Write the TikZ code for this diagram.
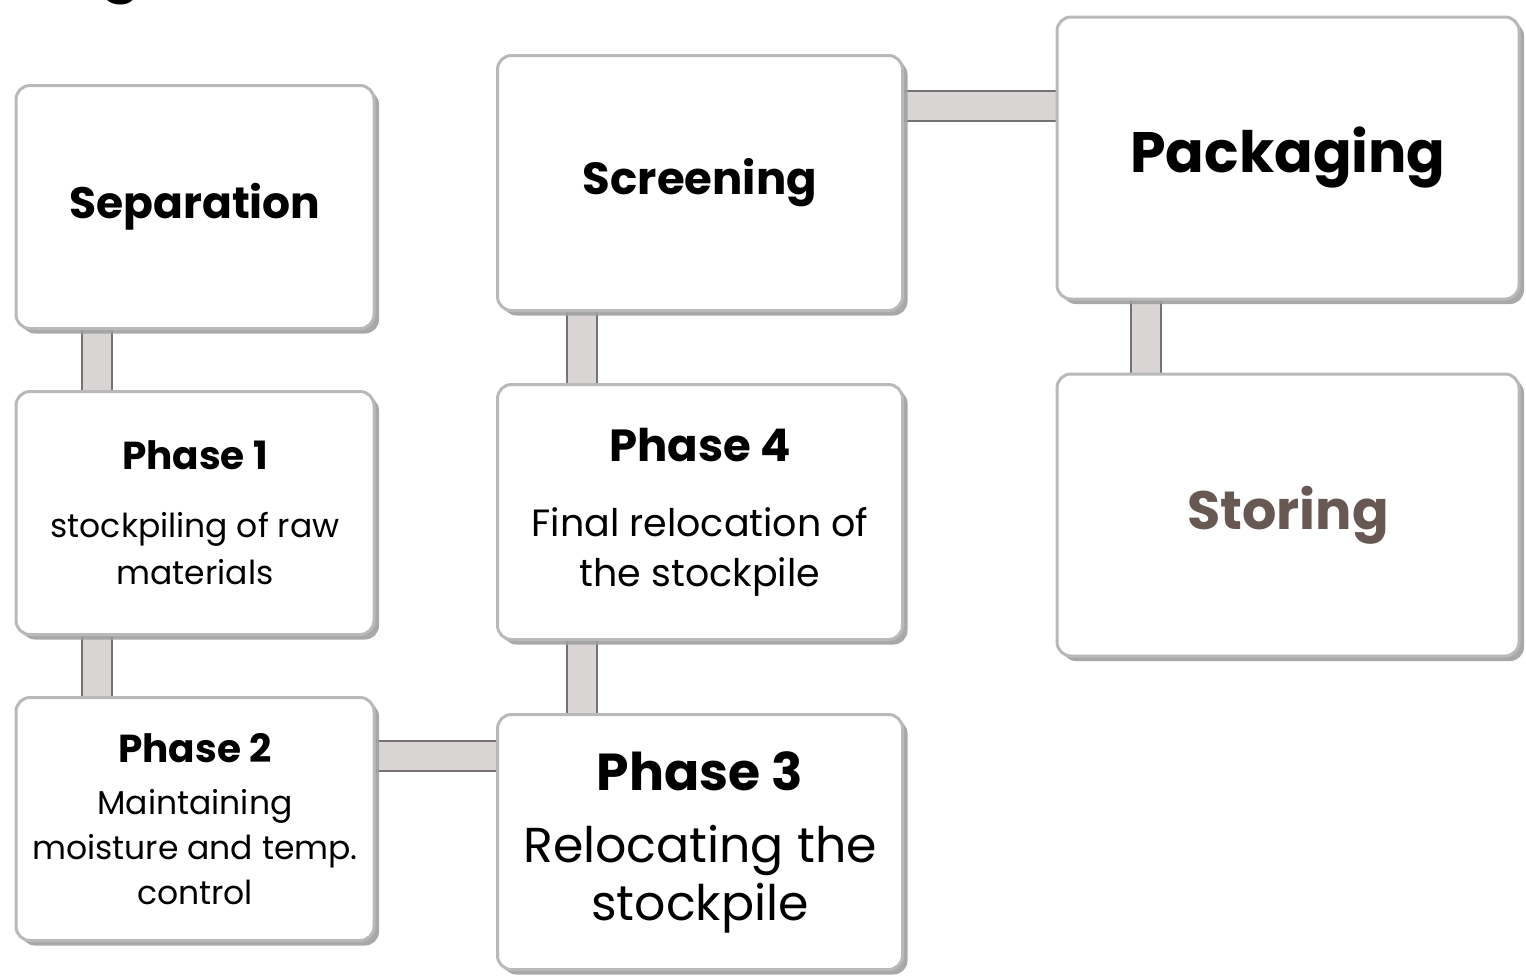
\documentclass[tikz,border=0pt]{standalone}
\usepackage{fontspec}
\setmainfont{Poppins}
\usetikzlibrary{shadows,backgrounds}
\definecolor{storebrown}{RGB}{104,88,84}
\definecolor{barfill}{RGB}{218,213,213}
\definecolor{baredge}{RGB}{120,115,115}
\tikzset{
  box/.style={draw=gray!55, line width=3pt, fill=white, rounded corners=14pt,
    drop shadow={shadow xshift=5pt, shadow yshift=-5pt, fill=gray!75, opacity=0.9},
    align=center, inner sep=0pt},
  colA/.style={box, minimum width=358pt, minimum height=243pt},
  colB/.style={box, minimum width=405pt, minimum height=255pt},
  colC/.style={box, minimum width=462pt, minimum height=282pt},
  bar/.style={draw=baredge, line width=2pt, double=barfill, double distance=28pt},
}
\begin{document}
\begin{tikzpicture}[x=1pt,y=-1pt]
\useasboundingbox (0,0) rectangle (1526,977);
% cropped title glyph
\node[font=\fontsize{60}{60}\selectfont\bfseries, anchor=base] (tg) at (121,-12) {g};
% column A
\node[colA] (sep) at (195,207) {\fontsize{44}{50}\selectfont\bfseries Separation};
\node[colA, font=\fontsize{33}{47}\selectfont] (p1) at (195,513)
  {{\fontsize{39}{39}\selectfont\bfseries Phase 1}\\[21pt] stockpiling of raw\\ materials};
\node[colA, font=\fontsize{33}{45}\selectfont] (p2) at (195,819)
  {{\fontsize{39}{39}\selectfont\bfseries Phase 2}\\[7pt] Maintaining\\ moisture and temp.\\ control};
% column B
\node[colB] (scr) at (700,183) {\fontsize{45}{50}\selectfont\bfseries Screening};
\node[colB, font=\fontsize{38}{50}\selectfont] (p4) at (700,512)
  {{\fontsize{45}{45}\selectfont\bfseries Phase 4}\\[25pt] Final relocation of\\ the stockpile};
\node[colB, font=\fontsize{49}{58}\selectfont] (p3) at (700,842)
  {{\fontsize{52}{52}\selectfont\bfseries Phase 3}\\[14pt] Relocating the\\ stockpile};
% column C
\node[colC] (pack) at (1288,158) {\fontsize{57}{62}\selectfont\bfseries Packaging};
\node[colC] (stor) at (1288,515) {\fontsize{54}{58}\selectfont\bfseries\color{storebrown} Storing};
% connectors
\begin{scope}[on background layer]
\draw[bar] ([xshift=82pt]sep.south west) -- ([xshift=82pt]p1.north west);
\draw[bar] ([xshift=82pt]p1.south west) -- ([xshift=82pt]p2.north west);
\draw[bar] ([xshift=86pt]scr.south west) -- ([xshift=86pt]p4.north west);
\draw[bar] ([xshift=86pt]p4.south west) -- ([xshift=86pt]p3.north west);
\draw[bar] ([yshift=-60pt]p2.north east) -- ([yshift=-60pt]p2.north east -| p3.west);
\draw[bar] ([yshift=-52pt]scr.north east) -- ([yshift=-52pt]scr.north east -| pack.west);
\draw[bar] ([xshift=90pt]pack.south west) -- ([xshift=90pt]pack.south west |- stor.north);
\end{scope}
\end{tikzpicture}
\end{document}
